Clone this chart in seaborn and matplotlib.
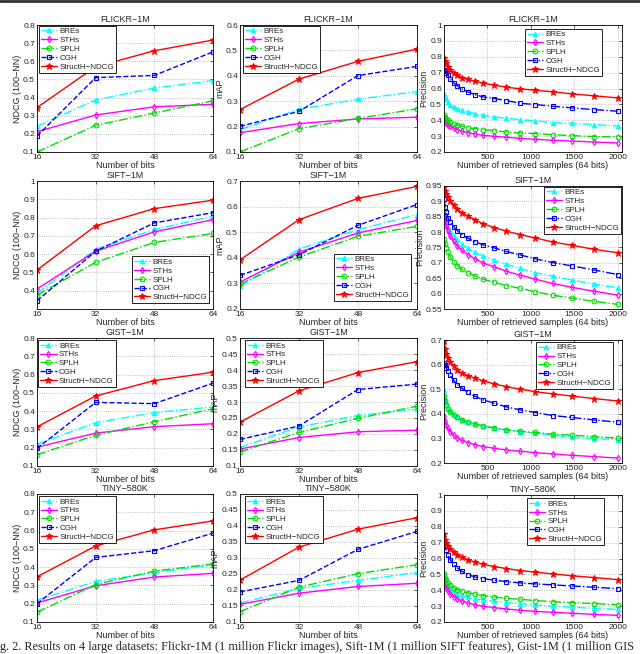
import numpy as np
import pandas as pd
import seaborn as sns
import matplotlib
matplotlib.use("Agg")
import matplotlib.pyplot as plt
from matplotlib.ticker import FixedLocator, FuncFormatter
from matplotlib.lines import Line2D

sns.set_style("white")
plt.rcParams['font.family'] = ['Liberation Sans', 'DejaVu Sans']

methods = ["BREs", "STHs", "SPLH", "CGH", "StructH\u2212NDCG"]
datasets = ["FLICKR\u22121M", "SIFT\u22121M", "GIST\u22121M", "TINY\u2212580K"]
bits = [16, 32, 48, 64]
samples = [5, 15, 27, 46, 73, 112, 154, 208, 277, 354, 450, 577, 719, 877, 1054, 1250, 1477, 1727, 2000]

# NDCG (100-NN) vs number of bits
flickr_ndcg = {"BREs": [0.242, 0.387, 0.453, 0.494], "STHs": [0.212, 0.304, 0.349, 0.363],
               "SPLH": [0.100, 0.247, 0.315, 0.382], "CGH": [0.188, 0.510, 0.522, 0.652],
               "StructH\u2212NDCG": [0.345, 0.570, 0.658, 0.717]}
sift_ndcg = {"BREs": [0.385, 0.627, 0.735, 0.807], "STHs": [0.409, 0.616, 0.722, 0.789],
             "SPLH": [0.376, 0.555, 0.664, 0.713], "CGH": [0.345, 0.616, 0.771, 0.827],
             "StructH\u2212NDCG": [0.513, 0.755, 0.849, 0.895]}
gist_ndcg = {"BREs": [0.219, 0.337, 0.392, 0.423], "STHs": [0.203, 0.280, 0.315, 0.331],
             "SPLH": [0.162, 0.268, 0.342, 0.413], "CGH": [0.196, 0.448, 0.441, 0.553],
             "StructH\u2212NDCG": [0.314, 0.483, 0.567, 0.613]}
tiny_ndcg = {"BREs": [0.219, 0.322, 0.370, 0.412], "STHs": [0.204, 0.298, 0.346, 0.366],
             "SPLH": [0.153, 0.305, 0.378, 0.418], "CGH": [0.200, 0.453, 0.490, 0.586],
             "StructH\u2212NDCG": [0.347, 0.516, 0.604, 0.653]}

# mAP vs number of bits
flickr_map = {"BREs": [0.188, 0.268, 0.308, 0.338], "STHs": [0.176, 0.212, 0.230, 0.237],
              "SPLH": [0.100, 0.192, 0.232, 0.270], "CGH": [0.201, 0.260, 0.401, 0.437],
              "StructH\u2212NDCG": [0.267, 0.387, 0.457, 0.505]}
sift_map = {"BREs": [0.288, 0.434, 0.510, 0.569], "STHs": [0.305, 0.422, 0.497, 0.546],
            "SPLH": [0.297, 0.403, 0.484, 0.523], "CGH": [0.331, 0.412, 0.527, 0.608],
            "StructH\u2212NDCG": [0.392, 0.549, 0.632, 0.679]}
gist_map = {"BREs": [0.158, 0.222, 0.258, 0.277], "STHs": [0.153, 0.189, 0.207, 0.212],
            "SPLH": [0.144, 0.205, 0.249, 0.287], "CGH": [0.183, 0.225, 0.339, 0.356],
            "StructH\u2212NDCG": [0.237, 0.335, 0.392, 0.426]}
tiny_map = {"BREs": [0.159, 0.205, 0.230, 0.255], "STHs": [0.155, 0.190, 0.211, 0.221],
            "SPLH": [0.132, 0.209, 0.251, 0.279], "CGH": [0.194, 0.230, 0.327, 0.383],
            "StructH\u2212NDCG": [0.231, 0.334, 0.390, 0.426]}

# Precision vs number of retrieved samples (64 bits)
flickr_prec = {
    "BREs": [0.564, 0.552, 0.531, 0.514, 0.499, 0.486, 0.474, 0.463, 0.455, 0.442, 0.432, 0.421, 0.413, 0.404, 0.396, 0.385, 0.381, 0.373, 0.364],
    "STHs": [0.404, 0.394, 0.383, 0.373, 0.362, 0.352, 0.341, 0.331, 0.322, 0.314, 0.305, 0.299, 0.293, 0.286, 0.280, 0.274, 0.269, 0.263, 0.257],
    "SPLH": [0.431, 0.420, 0.410, 0.400, 0.389, 0.379, 0.371, 0.362, 0.354, 0.347, 0.341, 0.335, 0.326, 0.320, 0.316, 0.309, 0.303, 0.297, 0.295],
    "CGH": [0.716, 0.712, 0.699, 0.682, 0.661, 0.636, 0.617, 0.596, 0.579, 0.562, 0.547, 0.537, 0.524, 0.507, 0.499, 0.488, 0.478, 0.467, 0.457],
    "StructH\u2212NDCG": [0.790, 0.775, 0.758, 0.737, 0.716, 0.699, 0.682, 0.669, 0.657, 0.646, 0.634, 0.621, 0.608, 0.598, 0.589, 0.579, 0.566, 0.554, 0.541]}
sift_prec = {
    "BREs": [0.874, 0.849, 0.833, 0.817, 0.803, 0.788, 0.774, 0.760, 0.747, 0.734, 0.723, 0.709, 0.695, 0.682, 0.668, 0.657, 0.644, 0.631, 0.619],
    "STHs": [0.858, 0.839, 0.819, 0.803, 0.787, 0.770, 0.755, 0.741, 0.727, 0.714, 0.700, 0.687, 0.673, 0.660, 0.647, 0.633, 0.620, 0.608, 0.595],
    "SPLH": [0.779, 0.762, 0.749, 0.734, 0.719, 0.704, 0.691, 0.679, 0.668, 0.658, 0.647, 0.637, 0.626, 0.617, 0.606, 0.595, 0.585, 0.575, 0.565],
    "CGH": [0.909, 0.882, 0.864, 0.847, 0.833, 0.818, 0.805, 0.792, 0.780, 0.769, 0.759, 0.749, 0.737, 0.726, 0.713, 0.701, 0.690, 0.677, 0.662],
    "StructH\u2212NDCG": [0.947, 0.935, 0.925, 0.914, 0.902, 0.887, 0.874, 0.862, 0.852, 0.841, 0.827, 0.815, 0.803, 0.792, 0.781, 0.768, 0.757, 0.744, 0.733]}
gist_prec = {
    "BREs": [0.495, 0.465, 0.442, 0.424, 0.410, 0.398, 0.386, 0.376, 0.367, 0.359, 0.351, 0.342, 0.334, 0.328, 0.321, 0.313, 0.305, 0.299, 0.295],
    "STHs": [0.393, 0.372, 0.356, 0.341, 0.328, 0.314, 0.302, 0.292, 0.283, 0.275, 0.267, 0.260, 0.253, 0.248, 0.242, 0.237, 0.231, 0.226, 0.220],
    "SPLH": [0.474, 0.454, 0.434, 0.418, 0.407, 0.396, 0.385, 0.375, 0.367, 0.359, 0.351, 0.343, 0.335, 0.329, 0.324, 0.317, 0.313, 0.307, 0.302],
    "CGH": [0.608, 0.600, 0.586, 0.572, 0.556, 0.536, 0.519, 0.504, 0.487, 0.472, 0.457, 0.443, 0.428, 0.416, 0.405, 0.393, 0.385, 0.375, 0.366],
    "StructH\u2212NDCG": [0.695, 0.665, 0.645, 0.628, 0.610, 0.593, 0.578, 0.565, 0.555, 0.545, 0.534, 0.522, 0.510, 0.500, 0.490, 0.481, 0.472, 0.462, 0.452]}
tiny_prec = {
    "BREs": [0.512, 0.474, 0.453, 0.432, 0.410, 0.394, 0.379, 0.368, 0.358, 0.347, 0.339, 0.331, 0.322, 0.316, 0.307, 0.299, 0.293, 0.286, 0.280],
    "STHs": [0.463, 0.436, 0.417, 0.398, 0.377, 0.360, 0.345, 0.333, 0.320, 0.310, 0.299, 0.291, 0.282, 0.274, 0.267, 0.261, 0.255, 0.248, 0.242],
    "SPLH": [0.505, 0.480, 0.463, 0.446, 0.432, 0.417, 0.404, 0.394, 0.383, 0.375, 0.366, 0.358, 0.349, 0.343, 0.335, 0.328, 0.322, 0.316, 0.309],
    "CGH": [0.705, 0.680, 0.653, 0.621, 0.592, 0.564, 0.541, 0.520, 0.499, 0.484, 0.474, 0.463, 0.455, 0.446, 0.440, 0.434, 0.427, 0.419, 0.410],
    "StructH\u2212NDCG": [0.752, 0.716, 0.699, 0.680, 0.661, 0.642, 0.623, 0.608, 0.592, 0.577, 0.564, 0.549, 0.537, 0.524, 0.514, 0.503, 0.491, 0.480, 0.467]}

ndcg_all = [flickr_ndcg, sift_ndcg, gist_ndcg, tiny_ndcg]
map_all = [flickr_map, sift_map, gist_map, tiny_map]
prec_all = [flickr_prec, sift_prec, gist_prec, tiny_prec]

ndcg_ylim = [(0.1, 0.8), (0.3, 1.0), (0.1, 0.8), (0.1, 0.8)]
ndcg_ticks = [[0.1, 0.2, 0.3, 0.4, 0.5, 0.6, 0.7, 0.8], [0.4, 0.5, 0.6, 0.7, 0.8, 0.9, 1.0],
              [0.1, 0.2, 0.3, 0.4, 0.5, 0.6, 0.7, 0.8], [0.1, 0.2, 0.3, 0.4, 0.5, 0.6, 0.7, 0.8]]
map_ylim = [(0.1, 0.6), (0.2, 0.7), (0.1, 0.5), (0.1, 0.5)]
map_ticks = [[0.1, 0.2, 0.3, 0.4, 0.5, 0.6], [0.2, 0.3, 0.4, 0.5, 0.6, 0.7],
             [0.1, 0.15, 0.2, 0.25, 0.3, 0.35, 0.4, 0.45, 0.5], [0.1, 0.15, 0.2, 0.25, 0.3, 0.35, 0.4, 0.45, 0.5]]
prec_ylim = [(0.2, 1.0), (0.55, 0.95), (0.2, 0.7), (0.2, 1.0)]
prec_ticks = [[0.2, 0.3, 0.4, 0.5, 0.6, 0.7, 0.8, 0.9, 1.0], [0.55, 0.6, 0.65, 0.7, 0.75, 0.8, 0.85, 0.9, 0.95],
              [0.2, 0.3, 0.4, 0.5, 0.6, 0.7], [0.2, 0.3, 0.4, 0.5, 0.6, 0.7, 0.8, 0.9, 1.0]]

colors = {"BREs": "#00FFFF", "STHs": "#FF00FF", "SPLH": "#00DD00", "CGH": "#0000FF", "StructH\u2212NDCG": "#FF0000"}
markers = {"BREs": "^", "STHs": "d", "SPLH": "o", "CGH": "s", "StructH\u2212NDCG": "*"}
styles_bits = {"BREs": "-.", "STHs": "-", "SPLH": "-.", "CGH": "--", "StructH\u2212NDCG": "-"}
styles_prec = {"BREs": "-.", "STHs": "-", "SPLH": "-.", "CGH": "-.", "StructH\u2212NDCG": "-"}
msizes = {"BREs": 3.2, "STHs": 3.2, "SPLH": 3.4, "CGH": 2.8, "StructH\u2212NDCG": 4.5}

W, H = 640, 654
fig = plt.figure(figsize=(6.4, 6.54), dpi=100)

col_x = [(37, 213), (240, 417), (444, 622)]
row_y = [(25, 152), (181, 309), (338, 466), (494, 622)]
prec_row_y = [(25, 152), (186, 309), (340, 463), (495, 622)]

# legend placement: (loc, anchor)
leg_pos = [
    [("upper left", (0.012, 0.995)), ("upper left", (0.015, 0.995)), ("upper right", (0.89, 0.97))],
    [("lower right", (0.977, 0.045)), ("lower right", (0.966, 0.065)), ("upper right", (0.995, 0.995))],
    [("upper left", (0.008, 0.985)), ("upper left", (0.03, 0.985)), ("upper right", (0.95, 0.985))],
    [("upper left", (0.012, 0.985)), ("upper left", (0.03, 0.985)), ("upper right", (0.9, 0.976))],
]

FS = 6
fmt = FuncFormatter(lambda v, p: f"{v:g}")


def make_ax(cx, ry):
    x0, x1 = cx
    y0, y1 = ry
    return fig.add_axes([x0 / W, 1 - y1 / H, (x1 - x0) / W, (y1 - y0) / H])


def style_ax(ax, title, xlabel, ylabel, ylim, yticks):
    ax.set_ylim(*ylim)
    ax.yaxis.set_major_locator(FixedLocator(yticks))
    ax.yaxis.set_major_formatter(fmt)
    ax.grid(True, linestyle=":", color="#b0b0b0", linewidth=0.6)
    ax.tick_params(direction="in", length=2.5, width=0.5, labelsize=FS, top=True, right=True, pad=1.5)
    for s in ax.spines.values():
        s.set_linewidth(0.6)
        s.set_color("black")
    ax.set_title(title, fontsize=FS + 0.5, pad=2.5)
    ax.set_xlabel(xlabel, fontsize=FS + 0.5, labelpad=0)
    ax.set_ylabel(ylabel, fontsize=FS + 0.5, labelpad=1)


def add_legend(ax, pos):
    loc, anchor = pos
    leg = ax.legend(loc=loc, bbox_to_anchor=anchor, fontsize=FS - 0.2, frameon=True, fancybox=False,
                    edgecolor="black", framealpha=1, borderpad=0.25, labelspacing=0.15,
                    handlelength=2.0, handletextpad=0.3, borderaxespad=0.0)
    leg.get_frame().set_linewidth(0.6)


def draw(ax, xs, data, styles):
    for m in methods:
        sns.lineplot(x=xs, y=data[m], ax=ax, color=colors[m], linestyle=styles[m],
                     marker=markers[m], markersize=msizes[m], markeredgecolor=colors[m],
                     markerfacecolor=colors[m] if m in ("StructH\u2212NDCG", "BREs") else "none",
                     markeredgewidth=0.8, linewidth=1.0, label=m)


for r in range(4):
    ax = make_ax(col_x[0], row_y[r])
    draw(ax, bits, ndcg_all[r], styles_bits)
    ax.set_xlim(16, 64)
    ax.xaxis.set_major_locator(FixedLocator(bits))
    style_ax(ax, datasets[r], "Number of bits", "NDCG (100\u2212NN)", ndcg_ylim[r], ndcg_ticks[r])
    add_legend(ax, leg_pos[r][0])

    ax = make_ax(col_x[1], row_y[r])
    draw(ax, bits, map_all[r], styles_bits)
    ax.set_xlim(16, 64)
    ax.xaxis.set_major_locator(FixedLocator(bits))
    style_ax(ax, datasets[r], "Number of bits", "mAP", map_ylim[r], map_ticks[r])
    add_legend(ax, leg_pos[r][1])

    ax = make_ax(col_x[2], prec_row_y[r])
    draw(ax, samples, prec_all[r], styles_prec)
    ax.set_xlim(1, 2050)
    ax.xaxis.set_major_locator(FixedLocator([500, 1000, 1500, 2000]))
    style_ax(ax, datasets[r], "Number of retrieved samples (64 bits)", "Precision", prec_ylim[r], prec_ticks[r])
    add_legend(ax, leg_pos[r][2])

fig.add_artist(Line2D([0, 1], [1 - 1 / H, 1 - 1 / H], color="#333333", linewidth=2.0))
fig.text(0.0, 1 - 647 / H, "g. 2. Results on 4 large datasets: Flickr-1M (1 million Flickr images), Sift-1M (1 million SIFT features), Gist-1M (1 million GIS",
         fontsize=8.8, family=["Liberation Serif", "DejaVu Serif"], ha="left", va="center")

fig.savefig("out.png", dpi=100)
